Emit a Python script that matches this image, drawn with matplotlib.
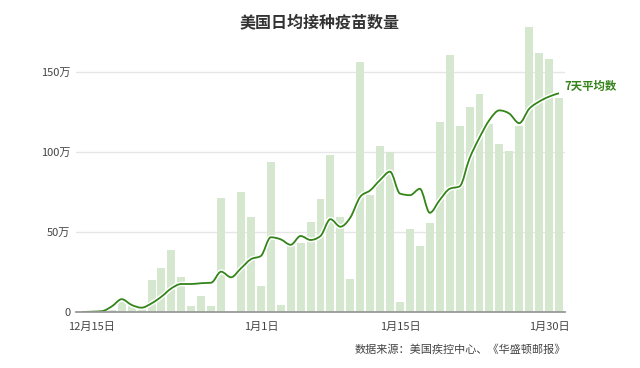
import matplotlib
matplotlib.use('Agg')
import matplotlib.pyplot as plt
import numpy as np
from matplotlib.path import Path
from matplotlib.patches import PathPatch
import matplotlib.patheffects as pe

plt.rcParams['font.family'] = ['Noto Sans CJK SC', 'DejaVu Sans']

# Days from 2020-12-14 to 2021-01-31 (index 0..48)
days = ['12-14', '12-15', '12-16', '12-17', '12-18', '12-19', '12-20', '12-21', '12-22', '12-23',
        '12-24', '12-25', '12-26', '12-27', '12-28', '12-29', '12-30', '12-31',
        '01-01', '01-02', '01-03', '01-04', '01-05', '01-06', '01-07', '01-08', '01-09', '01-10',
        '01-11', '01-12', '01-13', '01-14', '01-15', '01-16', '01-17', '01-18', '01-19', '01-20',
        '01-21', '01-22', '01-23', '01-24', '01-25', '01-26', '01-27', '01-28', '01-29', '01-30', '01-31']

# daily vaccinations (万)
daily = [0, 0.3, 0.5, 1.5, 6, 4, 2.5, 20, 27.5, 38.5,
         22, 4, 10, 3.5, 71, 0, 75, 59.6,
         16, 94, 4.4, 41, 43, 56, 70.6, 98, 59.6, 20.6,
         156, 73, 104, 100, 6, 51.7, 41.5, 55.8, 119, 160.6,
         116, 128, 136, 117.5, 105, 100.6, 116, 178, 161.7, 158, 134]

# 7-day average (万)
avg7 = [0, 0.2, 0.5, 3.5, 8, 4.4, 2.7, 5.4, 9.6, 14.8,
        17.5, 17.5, 18, 18.3, 25.2, 21.7, 27.3, 33,
        35, 46.7, 45.4, 42, 47.5, 45, 47.5, 58, 53.3, 59,
        72, 76, 82.5, 87.7, 74, 73, 77, 62, 70, 77,
        78.5, 96, 109, 120, 126, 124, 118, 127, 131.5, 134.6, 136.7]

tick_pos = [1, 18, 32, 47]
tick_labels = ['12月15日', '1月1日', '1月15日', '1月30日']
y_ticks = [0, 50, 100, 150]
y_labels = ['0', '50万', '100万', '150万']

title = '美国日均接种疫苗数量'
source = '数据来源：美国疾控中心、《华盛顿邮报》'
line_label = '7天平均数'

BAR = '#d5e8cf'
LINE = '#338419'


def monotone_path(xs, ys):
    xs = np.asarray(xs, float)
    ys = np.asarray(ys, float)
    n = len(xs)
    h = np.diff(xs)
    s = np.diff(ys) / h
    t = np.zeros(n)
    for i in range(1, n - 1):
        s0, s1 = s[i - 1], s[i]
        p = (s0 * h[i] + s1 * h[i - 1]) / (h[i - 1] + h[i])
        t[i] = (np.sign(s0) + np.sign(s1)) * min(abs(s0), abs(s1), 0.5 * abs(p))
    t[0] = (3 * s[0] - t[1]) / 2
    t[-1] = (3 * s[-1] - t[-2]) / 2
    verts = [(xs[0], ys[0])]
    codes = [Path.MOVETO]
    for i in range(n - 1):
        dx = h[i] / 3
        verts += [(xs[i] + dx, ys[i] + dx * t[i]),
                  (xs[i + 1] - dx, ys[i + 1] - dx * t[i + 1]),
                  (xs[i + 1], ys[i + 1])]
        codes += [Path.CURVE4] * 3
    return Path(verts, codes)


fig = plt.figure(figsize=(6.4, 3.68), dpi=100)
ax = fig.add_axes([0.11875, 0.1522, 0.764, 0.7826])

x = np.arange(len(days))
ax.bar(x, daily, width=0.8, color=BAR, zorder=2)

path = monotone_path(x, avg7)
patch = PathPatch(path, fill=False, edgecolor=LINE, linewidth=1.3, zorder=4,
                  path_effects=[pe.Stroke(linewidth=3.4, foreground='white'), pe.Normal()])
ax.add_patch(patch)

ax.set_xlim(-0.6, 48.6)
ax.set_ylim(0, 180)

ax.set_yticks(y_ticks)
ax.set_yticklabels(y_labels)
ax.set_xticks(tick_pos)
ax.set_xticklabels(tick_labels)
ax.tick_params(axis='both', length=0, labelsize=8, colors='#444444')
ax.tick_params(axis='y', pad=4)
ax.tick_params(axis='x', pad=7)

for yv in y_ticks[1:]:
    ax.axhline(yv, color='#e6e6e6', linewidth=1, zorder=1)

for sp in ['top', 'right', 'left']:
    ax.spines[sp].set_visible(False)
ax.spines['bottom'].set_color('#999999')
ax.spines['bottom'].set_linewidth(1.3)
ax.spines['bottom'].set_zorder(5)

ax.annotate(line_label, xy=(x[-1], avg7[-1]), xytext=(4, 0), textcoords='offset points',
            ha='left', va='bottom', fontsize=8.2, fontweight='bold', color=LINE,
            annotation_clip=False)

fig.text(0.5, 0.94, title, ha='center', va='center', fontsize=11.5, fontweight='bold', color='#333333')
fig.text(0.885, 0.052, source, ha='right', va='center', fontsize=8, color='#444444')

fig.savefig('out.png', dpi=100)
